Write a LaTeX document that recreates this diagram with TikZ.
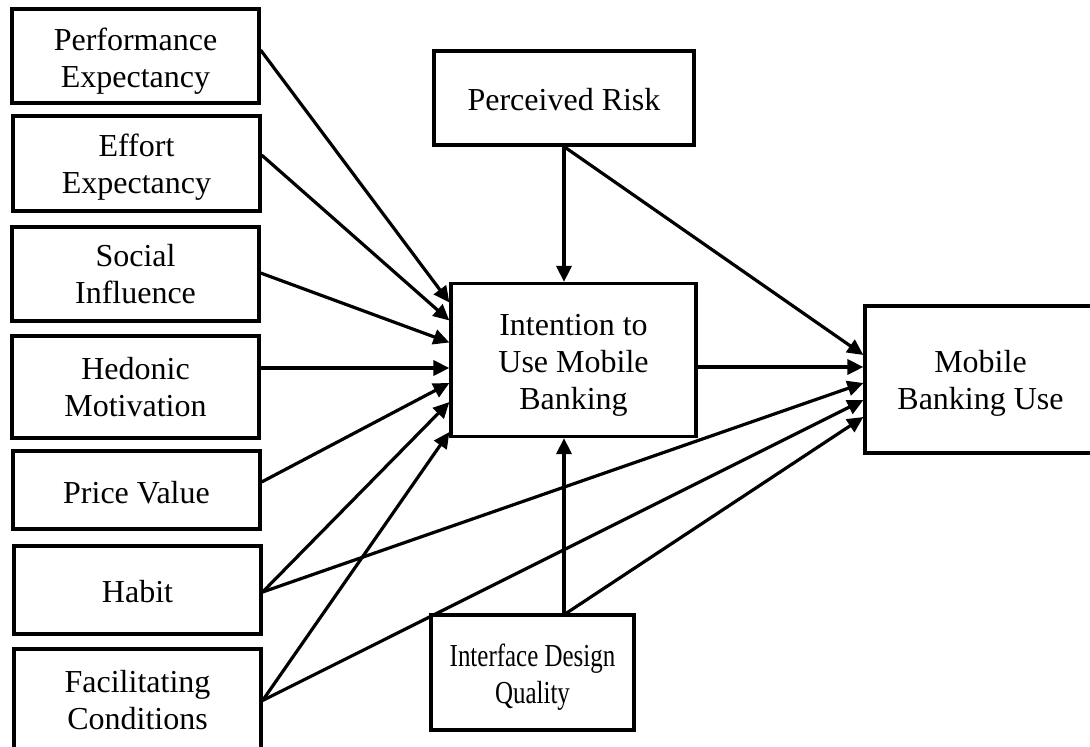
\documentclass[tikz,border=0pt]{standalone}
\usepackage{fontspec}
\setmainfont{Liberation Serif}
\usetikzlibrary{arrows.meta}
% centred multi-line label, lowered a little inside its box
\newcommand{\boxtext}[2][-4pt]{\raisebox{#1}[\height][\depth]{\begin{tabular}{@{}c@{}}#2\end{tabular}}}
\begin{document}
\begin{tikzpicture}[x=1pt, y=-1pt,
  box/.style={draw, line width=3.2pt, align=center, inner sep=0pt,
              font=\fontsize{32}{37}\selectfont},
  link/.style={line width=3.2pt, -{Triangle[length=16pt,width=15pt]}}]
  \useasboundingbox (0,0) rectangle (1090,747);
  \clip (0,0) rectangle (1090,747);

  % predictors on the left
  \node[box, minimum width=247pt, minimum height=94pt]  (pe) at (135.5,56)  {\boxtext[-6pt]{Performance\\Expectancy}};
  \node[box, minimum width=247pt, minimum height=95pt]  (ee) at (136.5,163.5) {\boxtext[-4pt]{Effort\\Expectancy}};
  \node[box, minimum width=247pt, minimum height=94pt]  (si) at (135.5,274) {\boxtext[-4pt]{Social\\Influence}};
  \node[box, minimum width=247pt, minimum height=102pt] (hm) at (135.5,387) {\boxtext[-4pt]{Hedonic\\Motivation}};
  \node[box, minimum width=247pt, minimum height=78pt]  (pv) at (136.5,490) {\boxtext[-6pt]{Price Value}};
  \node[box, minimum width=247pt, minimum height=88pt]  (hb) at (137.5,590) {\boxtext[-5pt]{Habit}};
  \node[box, minimum width=247pt, minimum height=103pt] (fc) at (137.5,700.5) {\boxtext[-3pt]{Facilitating\\Conditions}};

  % moderators, intention and use
  \node[box, minimum width=260pt, minimum height=94pt]  (pr)  at (564,98)    {\boxtext[-5pt]{Perceived Risk}};
  \node[box, minimum width=245pt, minimum height=153pt] (iu)  at (573.5,360) {\boxtext[-5pt]{Intention to\\Use Mobile\\Banking}};
  \node[box, minimum width=231pt, minimum height=147pt] (mbu) at (980.5,379.5) {\boxtext[-4pt]{Mobile\\Banking Use}};
  \node[box, minimum width=203pt, minimum height=115pt] (idq) at (532.5,672.5)
    {\scalebox{0.78}[1]{\boxtext[-5pt]{Interface Design\\Quality}}};

  % paths into the intention
  \draw[link] ([yshift=6pt]pe.east)  -- ([yshift=57.5pt]iu.west);
  \draw[link] ([yshift=8.5pt]ee.east) -- ([yshift=39.5pt]iu.west);
  \draw[link] ([yshift=1pt]si.east)  -- ([yshift=17.5pt]iu.west);
  \draw[link] ([yshift=19pt]hm.east) -- ([yshift=-8pt]iu.west);
  \draw[link] ([yshift=8pt]pv.east)  -- ([yshift=-23pt]iu.west);
  \draw[link] ([yshift=-2pt]hb.east) -- ([yshift=-42pt]iu.west);
  \draw[link] ([yshift=0pt]fc.east)  -- ([yshift=-72pt]iu.west);
  \draw[link] (pr.south) -- (pr.south |- iu.north);
  \draw[link] ([xshift=31.5pt]idq.north) -- ([xshift=31.5pt]idq.north |- iu.south);

  % paths into mobile banking use
  \draw[link] (pr.south) -- ([yshift=24.5pt]mbu.west);
  \draw[link] ([yshift=-7pt]iu.east) -- ([yshift=-7pt]iu.east -| mbu.west);
  \draw[link] ([yshift=-2pt]hb.east) -- ([yshift=-3.5pt]mbu.west);
  \draw[link] ([yshift=0pt]fc.east)  -- ([yshift=-20.5pt]mbu.west);
  \draw[link] ([xshift=33.5pt]idq.north) -- ([yshift=-37.5pt]mbu.west);
\end{tikzpicture}
\end{document}
